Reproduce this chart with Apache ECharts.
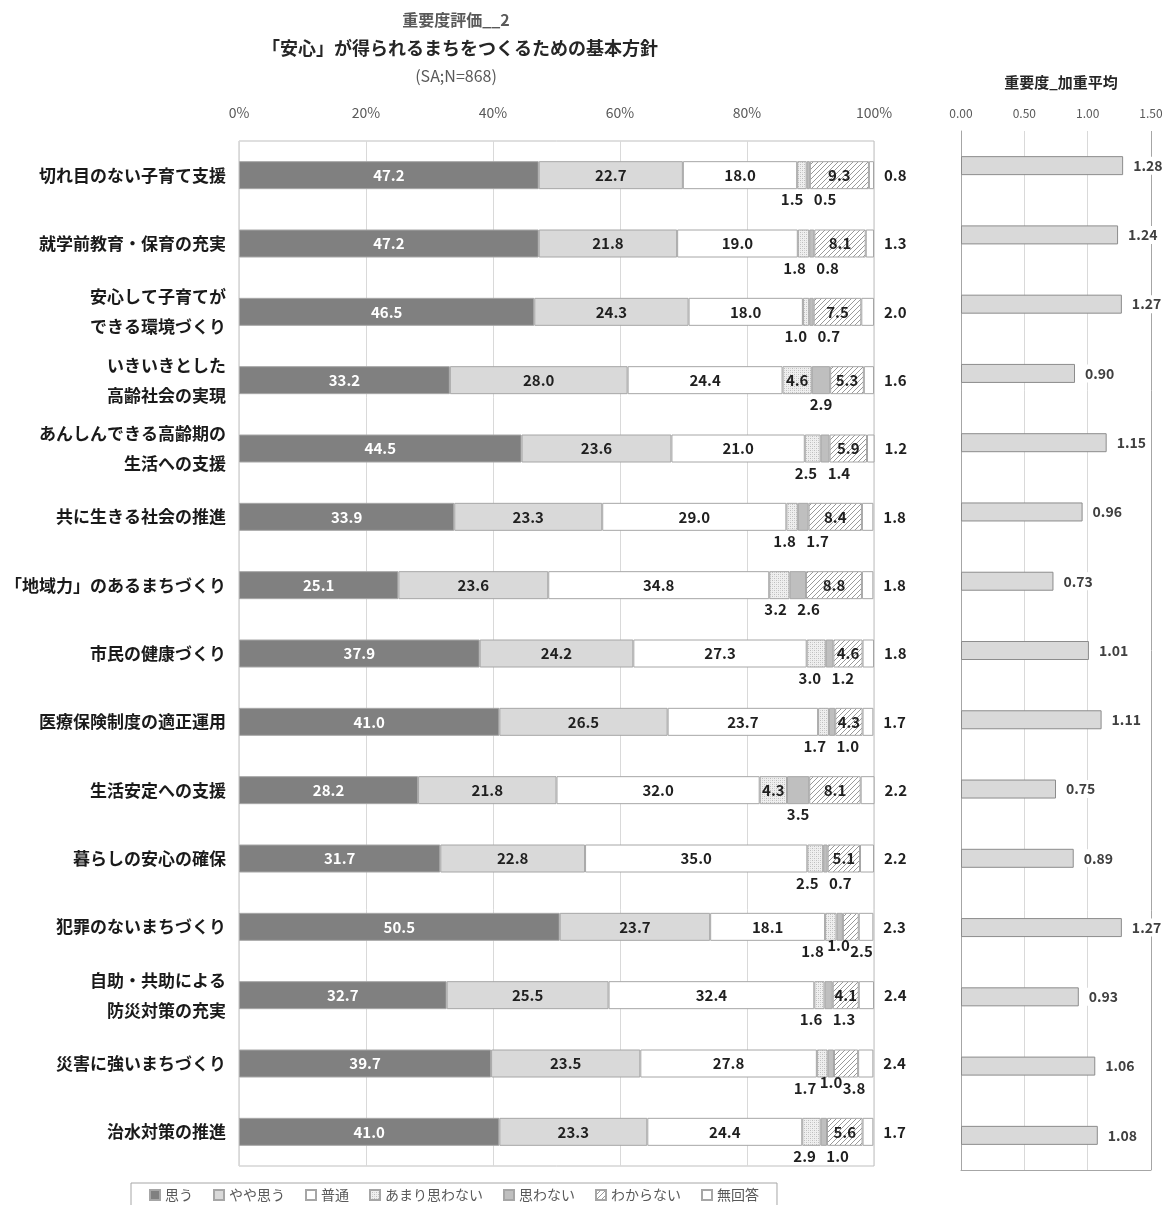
<!DOCTYPE html>
<html><head><meta charset="utf-8">
<script src="https://cdn.jsdelivr.net/npm/echarts@6/dist/echarts.min.js"></script>
<style>html,body{margin:0;padding:0;background:#fff}#c{width:1173px;height:1205px}</style>
</head><body><div id="c"></div>
<script>
// ---------- data ----------
const categories = [
  '切れ目のない子育て支援',
  '就学前教育・保育の充実',
  '安心して子育てが\nできる環境づくり',
  'いきいきとした\n高齢社会の実現',
  'あんしんできる高齢期の\n生活への支援',
  '共に生きる社会の推進',
  '「地域力」のあるまちづくり',
  '市民の健康づくり',
  '医療保険制度の適正運用',
  '生活安定への支援',
  '暮らしの安心の確保',
  '犯罪のないまちづくり',
  '自助・共助による\n防災対策の充実',
  '災害に強いまちづくり',
  '治水対策の推進'
];
const seriesNames = ['思う','やや思う','普通','あまり思わない','思わない','わからない','無回答'];
const omou      = [47.2,47.2,46.5,33.2,44.5,33.9,25.1,37.9,41.0,28.2,31.7,50.5,32.7,39.7,41.0];
const yayaOmou  = [22.7,21.8,24.3,28.0,23.6,23.3,23.6,24.2,26.5,21.8,22.8,23.7,25.5,23.5,23.3];
const futsu     = [18.0,19.0,18.0,24.4,21.0,29.0,34.8,27.3,23.7,32.0,35.0,18.1,32.4,27.8,24.4];
const amari     = [1.5,1.8,1.0,4.6,2.5,1.8,3.2,3.0,1.7,4.3,2.5,1.8,1.6,1.7,2.9];
const omowanai  = [0.5,0.8,0.7,2.9,1.4,1.7,2.6,1.2,1.0,3.5,0.7,1.0,1.3,1.0,1.0];
const wakaranai = [9.3,8.1,7.5,5.3,5.9,8.4,8.8,4.6,4.3,8.1,5.1,2.5,4.1,3.8,5.6];
const mukaito   = [0.8,1.3,2.0,1.6,1.2,1.8,1.8,1.8,1.7,2.2,2.2,2.3,2.4,2.4,1.7];
const weightedAvg = [1.28,1.24,1.27,0.90,1.15,0.96,0.73,1.01,1.11,0.75,0.89,1.27,0.93,1.06,1.08];
const pctTicks = {min:0, max:100, interval:20};
const avgTicks = {min:0, max:1.5, interval:0.5};

// ---------- layout ----------
const FONT = '"Noto Sans CJK JP","Noto Sans",sans-serif';
const LG = {left:239, right:1173-874, top:141, bottom:1205-1166};
const RG = {left:961, right:1173-1151, top:131, bottom:1205-1170};
const pxPer = (1173 - LG.left - LG.right) / 100;

function pattern(kind){
  const c = document.createElement('canvas');
  const s = kind === 'hatch' ? 5 : 4;
  c.width = s; c.height = s;
  const g = c.getContext('2d');
  if (kind === 'hatch') {
    g.fillStyle = '#ffffff'; g.fillRect(0,0,s,s);
    g.strokeStyle = '#9a9a9a'; g.lineWidth = 1;
    g.beginPath();
    g.moveTo(-1, s+1); g.lineTo(s+1, -1);
    g.moveTo(-1, 1); g.lineTo(1, -1);
    g.moveTo(s-1, s+1); g.lineTo(s+1, s-1);
    g.stroke();
  } else {
    g.fillStyle = '#efefef'; g.fillRect(0,0,s,s);
    g.fillStyle = '#bdbdbd';
    g.fillRect(0,0,1,1); g.fillRect(2,2,1,1);
    g.fillStyle = '#d4d4d4';
    g.fillRect(2,0,1,1); g.fillRect(0,2,1,1);
  }
  return {image: c, repeat: 'repeat'};
}

const stacks = [omou, yayaOmou, futsu, amari, omowanai, wakaranai, mukaito];
const colors = ['#808080','#d9d9d9','#ffffff',pattern('dots'),'#bfbfbf',pattern('hatch'),'#ffffff'];

// label placement for small segments (shown under the bar)
const labelCfg = stacks.map(() => []);
for (let i = 0; i < categories.length; i++) {
  let cum = 0; const below = [];
  for (let s = 0; s < 7; s++) {
    const v = stacks[s][i];
    const c = (cum + v/2) * pxPer;
    cum += v;
    if (s >= 3 && s <= 5 && v < 4) below.push({s, c});
    else labelCfg[s][i] = null;
  }
  const n = below.length;
  const m = below.reduce((a,b)=>a+b.c,0) / (n||1);
  let targets = [], dys = [];
  if (n === 1) { targets = [below[0].c]; dys = [0]; }
  else if (n === 2) { targets = [m-13, m+20]; dys = [0,0]; }
  else if (n === 3) { targets = [m-28, m-2, m+21]; dys = [0,-6,0]; }
  below.forEach((b, k) => {
    labelCfg[b.s][i] = {position:'bottom', distance:3, offset:[targets[k]-b.c, dys[k]]};
  });
}

const leftSeries = seriesNames.map((name, s) => ({
  name, type:'bar', stack:'total', xAxisIndex:0, yAxisIndex:0,
  barWidth:28,
  itemStyle:{color:colors[s], borderColor:'#a6a6a6', borderWidth:1},
  label:{
    show:true,
    position: s === 6 ? 'right' : 'inside',
    distance: s === 6 ? 10 : 5,
    color: s === 0 ? '#ffffff' : '#1f1f1f',
    fontFamily:FONT, fontSize:15, fontWeight:'bold',
    formatter: p => p.value.toFixed(1)
  },
  emphasis:{disabled:true},
  data: stacks[s].map((v, i) => {
    const cfg = labelCfg[s][i];
    return cfg ? {value:v, label:cfg} : {value:v};
  })
}));

const option = {
  backgroundColor:'#ffffff',
  animation:false,
  textStyle:{fontFamily:FONT},
  title:[
    {text:'重要度評価__2', left:451, top:7, textAlign:'center',
     textStyle:{fontFamily:FONT, fontSize:16, fontWeight:'bold', color:'#595959'}},
    {text:'「安心」が得られるまちをつくるための基本方針', left:455, top:34, textAlign:'center',
     textStyle:{fontFamily:FONT, fontSize:18, fontWeight:'bold', color:'#262626'}},
    {text:'(SA;N=868)', left:451, top:63, textAlign:'center',
     textStyle:{fontFamily:FONT, fontSize:16, fontWeight:'normal', color:'#595959'}},
    {text:'重要度_加重平均', left:1056, top:70, textAlign:'center',
     textStyle:{fontFamily:FONT, fontSize:15, fontWeight:'bold', color:'#262626'}}
  ],
  legend:{
    data:seriesNames, left:131, top:1183,
    padding:[5,18,5,18], itemGap:20, itemWidth:10, itemHeight:10,
    borderColor:'#a6a6a6', borderWidth:1, icon:'rect',
    textStyle:{fontFamily:FONT, fontSize:14, color:'#595959'},
    selectedMode:false
  },
  grid:[
    Object.assign({show:true, borderColor:'#bfbfbf', borderWidth:1, containLabel:false}, LG),
    Object.assign({show:false, containLabel:false}, RG)
  ],
  xAxis:[
    {type:'value', gridIndex:0, position:'top', min:pctTicks.min, max:pctTicks.max, interval:pctTicks.interval,
     axisLine:{show:false}, axisTick:{show:false},
     axisLabel:{formatter:'{value}%', margin:21, fontFamily:FONT, fontSize:14, color:'#595959'},
     splitLine:{show:true, lineStyle:{color:'#d9d9d9', width:1}}},
    {type:'value', gridIndex:1, position:'top', min:avgTicks.min, max:avgTicks.max, interval:avgTicks.interval,
     axisLine:{show:false}, axisTick:{show:false},
     axisLabel:{formatter:v=>v.toFixed(2), margin:12, fontFamily:FONT, fontSize:12, color:'#595959'},
     splitLine:{show:true, lineStyle:{color:['#a6a6a6','#d9d9d9','#d9d9d9','#a6a6a6'], width:1}}},
    {type:'value', gridIndex:1, position:'bottom', min:avgTicks.min, max:avgTicks.max,
     axisLine:{show:true, lineStyle:{color:'#a6a6a6'}}, axisTick:{show:false},
     axisLabel:{show:false}, splitLine:{show:false}}
  ],
  yAxis:[
    {type:'category', gridIndex:0, data:categories, inverse:true,
     axisLine:{show:false}, axisTick:{show:false},
     axisLabel:{margin:13, fontFamily:FONT, fontSize:17, fontWeight:'bold', color:'#1a1a1a', lineHeight:30, align:'right'}},
    {type:'category', gridIndex:1, data:categories, inverse:true,
     axisLine:{show:true, lineStyle:{color:'#a6a6a6'}}, axisTick:{show:false},
     axisLabel:{show:false}}
  ],
  series: leftSeries.concat([{
    name:'重要度_加重平均', type:'bar', xAxisIndex:1, yAxisIndex:1,
    barWidth:19,
    itemStyle:{color:'#d9d9d9', borderColor:'#8c8c8c', borderWidth:1},
    label:{show:true, position:'right', distance:7, backgroundColor:'#ffffff', padding:[2,3],
      fontFamily:FONT, fontSize:14, fontWeight:'bold', color:'#404040',
      formatter:p=>p.value.toFixed(2)},
    emphasis:{disabled:true},
    data: weightedAvg
  }])
};

const chart = echarts.init(document.getElementById('c'), null, {renderer:'canvas'});
chart.setOption(option);
</script>
</body></html>
